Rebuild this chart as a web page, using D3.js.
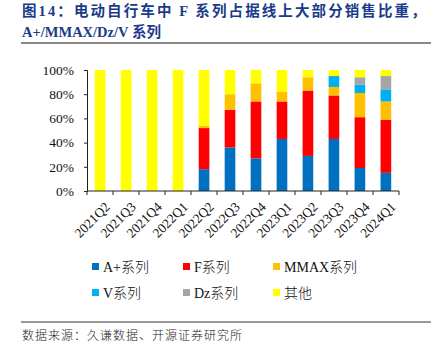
<!DOCTYPE html>
<html>
<head>
<meta charset="utf-8">
<script src="https://cdn.jsdelivr.net/npm/d3@7"></script>
<style>
  body { margin: 0; background: #fff; }
</style>
</head>
<body>
<div id="chart"></div>
<script>
// Data
const quarters = ['2021Q2', '2021Q3', '2021Q4', '2022Q1', '2022Q2', '2022Q3',
  '2022Q4', '2023Q1', '2023Q2', '2023Q3', '2023Q4', '2024Q1']
const seriesNames = ['A+系列', 'F系列', 'MMAX系列', 'V系列', 'Dz系列', '其他']
const aPlus = [0, 0, 0, 0, 18, 36, 27, 43, 29, 43, 19, 15]
const fSeries = [0, 0, 0, 0, 34, 31, 47, 31, 54, 36, 42, 44]
const mmax = [0, 0, 0, 0, 2, 13, 15, 8, 11, 7, 20, 15]
const vSeries = [0, 0, 0, 0, 0, 0, 0, 0, 0, 9, 7, 10]
const dz = [0, 0, 0, 0, 0, 0, 0, 0, 0, 0, 6, 11]
const other = [100, 100, 100, 100, 46, 20, 11, 18, 6, 5, 6, 5]
const yTicks = [0, 0.2, 0.4, 0.6, 0.8, 1]
const colors = ['#0070C0', '#FF0000', '#FFC000', '#00B0F0', '#A5A5A5', '#FFFF00']

const rows = quarters.map((q, i) => ({
  q,
  'A+系列': aPlus[i], 'F系列': fSeries[i], 'MMAX系列': mmax[i],
  'V系列': vSeries[i], 'Dz系列': dz[i], '其他': other[i]
}))

const width = 438, height = 351
const plot = { left: 87, right: 399, top: 70, bottom: 191 }
const latin = '"Liberation Serif", "Times New Roman", serif'
const cjk = '"Noto Sans CJK SC", sans-serif'

const svg = d3.select('#chart').append('svg')
  .attr('width', width).attr('height', height)

// title
const title = svg.append('g')
  .attr('fill', '#1B3A8A')
  .style('font-weight', 'bold')
title.append('text').attr('x', 22).attr('y', 16)
  .style('font-family', `${latin}, ${cjk}`).style('font-size', '14.5px')
  .style('letter-spacing', '2.1px')
  .text('图14：电动自行车中 F 系列占据线上大部分销售比重，')
title.append('text').attr('x', 22).attr('y', 37)
  .style('font-family', `${latin}, ${cjk}`).style('font-size', '14.5px')
  .text('A+/MMAX/Dz/V 系列')
svg.append('line').attr('x1', 21).attr('x2', 431).attr('y1', 43).attr('y2', 43)
  .attr('stroke', '#888').attr('stroke-width', 2)

// scales
const x = d3.scaleBand().domain(quarters).range([plot.left, plot.right]).paddingInner(0.59).paddingOuter(0.3)
const y = d3.scaleLinear().domain([0, 1]).range([plot.bottom, plot.top])

const stack = d3.stack().keys(seriesNames).offset(d3.stackOffsetExpand)
const layers = stack(rows)
const color = d3.scaleOrdinal().domain(seriesNames).range(colors)

svg.append('g').selectAll('g')
  .data(layers)
  .join('g')
  .attr('fill', d => color(d.key))
  .selectAll('rect')
  .data(d => d)
  .join('rect')
  .attr('x', d => x(d.data.q))
  .attr('width', x.bandwidth())
  .attr('y', d => y(d[1]))
  .attr('height', d => y(d[0]) - y(d[1]))

// y axis
const yAxis = svg.append('g')
  .attr('transform', `translate(${plot.left},0)`)
  .call(d3.axisLeft(y).tickValues(yTicks).tickFormat(d3.format('.0%')).tickSize(3).tickPadding(10))
yAxis.selectAll('text').style('font-family', latin).style('font-size', '13.5px').attr('fill', '#111')
yAxis.selectAll('line, path').attr('stroke', '#222')

// x axis with ticks on category boundaries
const xg = svg.append('g').attr('transform', `translate(0,${plot.bottom})`)
xg.append('line').attr('x1', plot.left).attr('x2', plot.right).attr('stroke', '#222')
const step = (plot.right - plot.left) / quarters.length
xg.selectAll('.tk').data(d3.range(quarters.length + 1)).join('line')
  .attr('x1', i => plot.left + i * step).attr('x2', i => plot.left + i * step)
  .attr('y1', 0).attr('y2', 4).attr('stroke', '#222')
xg.selectAll('text').data(quarters).join('text')
  .attr('transform', d => `translate(${x(d) + x.bandwidth() / 2 + 4},10) rotate(-45)`)
  .attr('text-anchor', 'end')
  .attr('dy', '0.7em')
  .style('font-family', latin).style('font-size', '13.5px').attr('fill', '#111')
  .text(d => d)

// legend
const legend = svg.append('g')
const legX = [92, 183, 273]
const legY = [267, 293]
seriesNames.forEach((name, i) => {
  const g = legend.append('g')
    .attr('transform', `translate(${legX[i % 3]},${legY[Math.floor(i / 3)]})`)
  g.append('rect').attr('x', 0).attr('y', -4).attr('width', 7).attr('height', 7).attr('fill', colors[i])
  g.append('text').attr('x', 11).attr('y', 0).attr('dy', '0.35em')
    .style('font-family', `${latin}, ${cjk}`).style('font-size', '14px').attr('fill', '#111')
    .style('font-weight', 300)
    .text(name)
})

// footer
svg.append('line').attr('x1', 21).attr('x2', 431).attr('y1', 322).attr('y2', 322)
  .attr('stroke', '#333').attr('stroke-width', 1)
svg.append('text').attr('x', 22).attr('y', 340)
  .style('font-family', cjk).style('font-size', '12px').attr('fill', '#222')
  .style('font-weight', 300)
  .style('letter-spacing', '1px')
  .text('数据来源：久谦数据、开源证券研究所')
</script>
</body>
</html>
